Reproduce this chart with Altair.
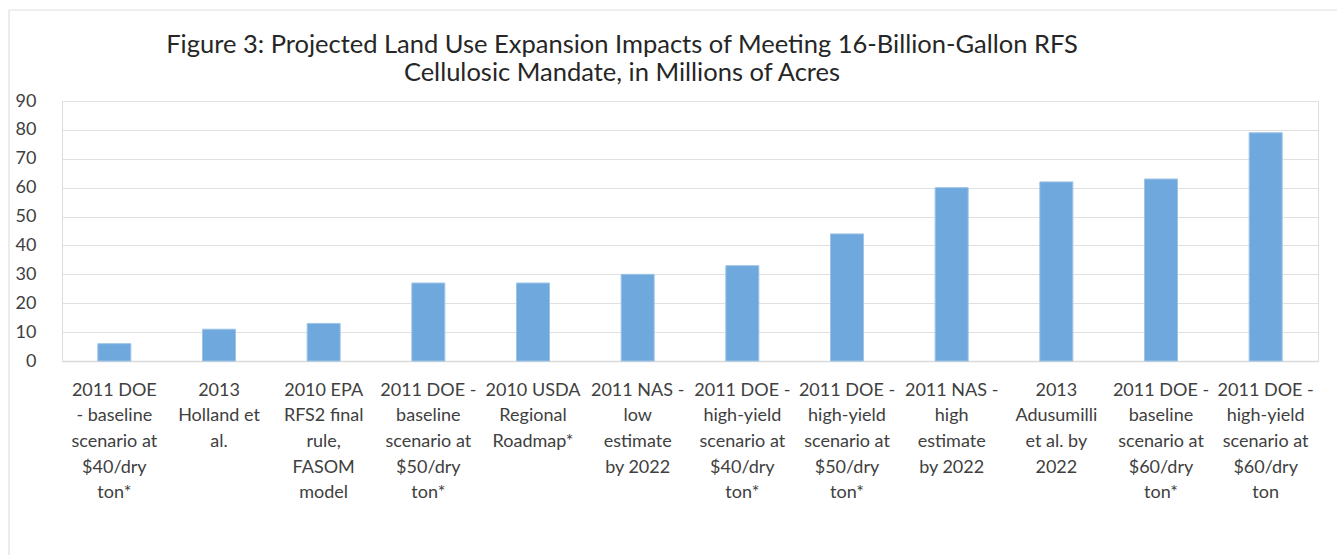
import altair as alt
import pandas as pd

title_lines = [
    "Figure 3: Projected Land Use Expansion Impacts of Meeting 16-Billion-Gallon RFS",
    "Cellulosic Mandate, in Millions of Acres",
]
labels = [
    "2011 DOE|- baseline|scenario at|$40/dry|ton*",
    "2013|Holland et|al.",
    "2010 EPA|RFS2 final|rule,|FASOM|model",
    "2011 DOE -|baseline|scenario at|$50/dry|ton*",
    "2010 USDA|Regional|Roadmap*",
    "2011 NAS -|low|estimate|by 2022",
    "2011 DOE -|high-yield|scenario at|$40/dry|ton*",
    "2011 DOE -|high-yield|scenario at|$50/dry|ton*",
    "2011 NAS -|high|estimate|by 2022",
    "2013|Adusumilli|et al. by|2022",
    "2011 DOE -|baseline|scenario at|$60/dry|ton*",
    "2011 DOE -|high-yield|scenario at|$60/dry|ton",
]
values = [6, 11, 13, 27, 27, 30, 33, 44, 60, 62, 63, 79]
y_ticks = [0, 10, 20, 30, 40, 50, 60, 70, 80, 90]

df = pd.DataFrame({"study": labels, "acres": values})
tdf = pd.DataFrame({"t": [title_lines]})

FONT = "Lato"

bars = alt.Chart(df).mark_bar(size=33, color="#6FA8DC", stroke="#9DC3E6", strokeWidth=1).encode(
    x=alt.X("study:N", sort=None, title=None,
            scale=alt.Scale(paddingInner=0, paddingOuter=0),
            axis=alt.Axis(labelExpr="split(datum.label, '|')", labelAngle=0,
                          labelAlign="center", labelBaseline="top",
                          labelFont=FONT, labelFontSize=18, labelColor="#404040",
                          labelLineHeight=25.7, labelPadding=20, ticks=False,
                          domain=True, domainColor="#D9D9D9", domainWidth=1.5,
                          labelLimit=300, labelOverlap=False)),
    y=alt.Y("acres:Q", title=None,
            scale=alt.Scale(domain=[0, 90], nice=False),
            axis=alt.Axis(values=y_ticks, labelFont=FONT, labelFontSize=18,
                          labelColor="#404040", labelPadding=26, ticks=False,
                          domain=False, grid=True, gridColor="#E0E0E0",
                          gridWidth=1.2)),
)

title = alt.Chart(tdf).mark_text(
    font=FONT, fontSize=25.5, color="#262626", align="center", baseline="middle",
    lineHeight=28,
).encode(text="t", x=alt.value(560), y=alt.value(-56))

border = alt.Chart(tdf).mark_rule(color="#E0E0E0", strokeWidth=1.2).encode(
    x=alt.value(-53), x2=alt.value(1400), y=alt.value(-91)
)
border_left = alt.Chart(tdf).mark_rule(color="#E0E0E0", strokeWidth=1.2).encode(
    x=alt.value(-53), y=alt.value(-91), y2=alt.value(500)
)

chart = alt.layer(bars, title, border, border_left).properties(
    width=1256, height=260,
    autosize="none",
    padding={"left": 62, "top": 101, "right": 19, "bottom": 194},
).configure_view(stroke=None).configure(background="white")

chart.save("out.html", embed_options={"renderer": "svg", "actions": False})
